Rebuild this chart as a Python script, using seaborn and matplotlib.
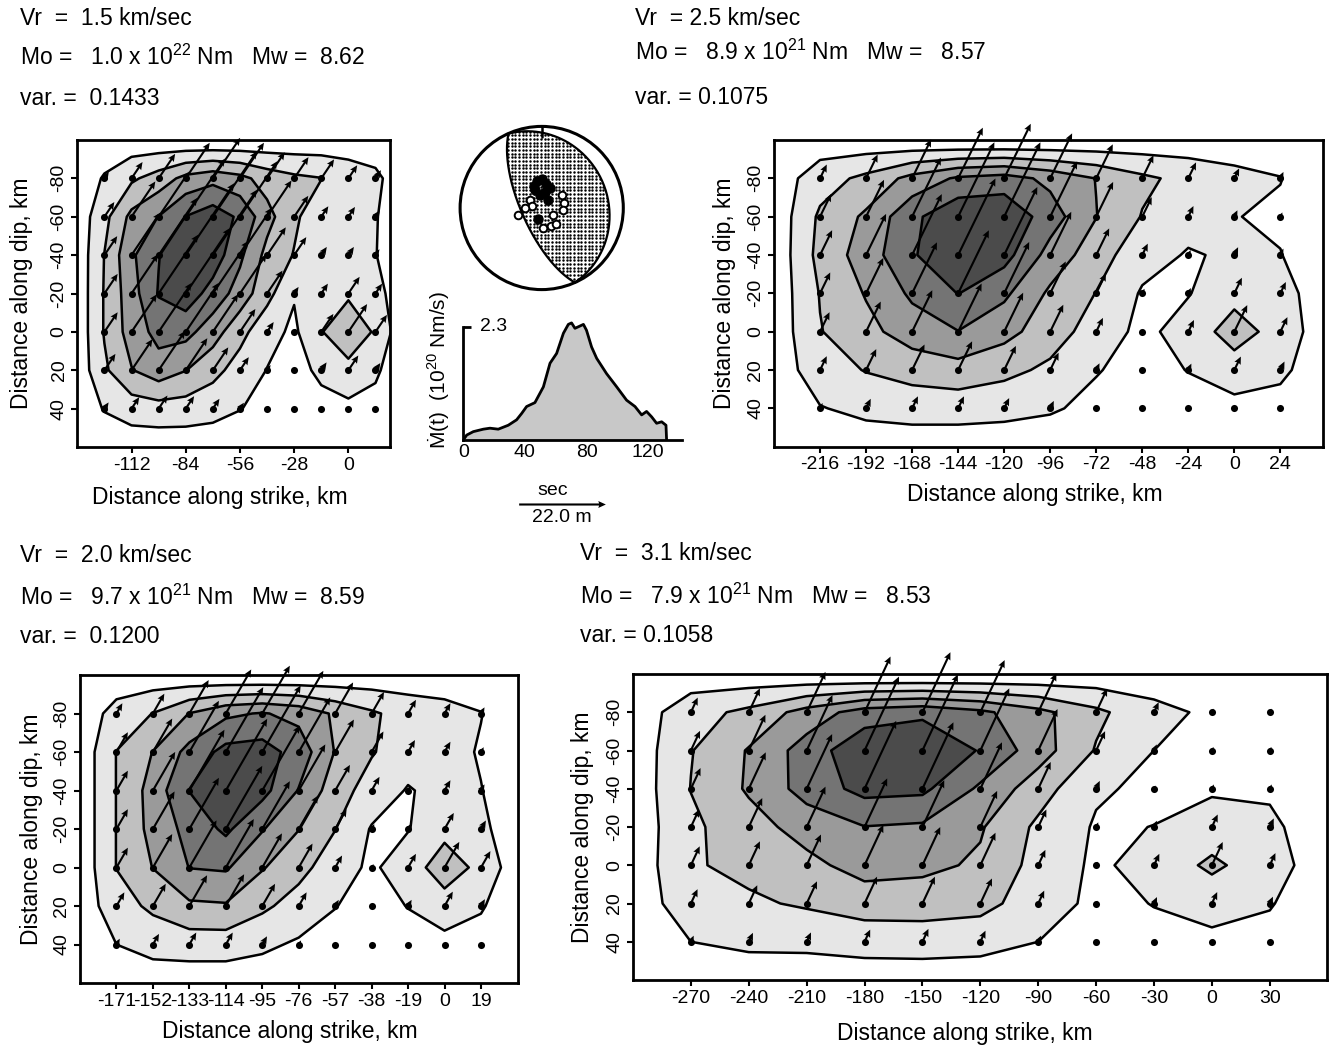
import numpy as np
import matplotlib
matplotlib.use("Agg")
import matplotlib.pyplot as plt
import seaborn as sns
import pandas as pd
from matplotlib.patches import Polygon, Circle

sns.set_theme(style="ticks")
plt.rcParams["font.family"] = ["Liberation Sans", "DejaVu Sans"]
plt.rcParams["mathtext.fontset"] = "custom"
plt.rcParams["mathtext.rm"] = "Liberation Sans"
plt.rcParams["mathtext.it"] = "Liberation Sans:italic"
plt.rcParams["mathtext.bf"] = "Liberation Sans:bold"
plt.rcParams["axes.unicode_minus"] = False
for k in ["text.color", "axes.labelcolor", "xtick.color", "ytick.color", "axes.edgecolor"]:
    plt.rcParams[k] = "black"

# ---------------- data ----------------
dip = [-80, -60, -40, -20, 0, 20, 40]
dip_ticks = [-80, -60, -40, -20, 0, 20, 40]

strike_a = [-126, -112, -98, -84, -70, -56, -42, -28, -14, 0, 14]
strike_b = [-216, -192, -168, -144, -120, -96, -72, -48, -24, 0, 24]
strike_c = [-171, -152, -133, -114, -95, -76, -57, -38, -19, 0, 19]
strike_d = [-270, -240, -210, -180, -150, -120, -90, -60, -30, 0, 30]

ticks_a = [-112, -84, -56, -28, 0]
ticks_b = [-216, -192, -168, -144, -120, -96, -72, -48, -24, 0, 24]
ticks_c = [-171, -152, -133, -114, -95, -76, -57, -38, -19, 0, 19]
ticks_d = [-270, -240, -210, -180, -150, -120, -90, -60, -30, 0, 30]

# slip (m), rows = dip -80..40, columns = strike
slip_a = [
    [2.0, 5.0, 7.5, 10.9, 12.4, 10.9, 8.0, 6.5, 5.8, 4.0, 2.5],
    [4.5, 10.8, 13.8, 17.8, 20.0, 17.0, 11.1, 6.4, 3.2, 3.0, 1.9],
    [5.8, 13.0, 17.5, 22.0, 20.0, 14.5, 8.5, 5.5, 2.5, 2.5, 1.8],
    [6.0, 12.0, 18.0, 20.0, 16.1, 12.0, 7.0, 2.0, 3.0, 5.1, 3.0],
    [6.0, 11.5, 15.0, 15.0, 11.5, 7.0, 3.0, 1.0, 5.5, 8.5, 5.2],
    [5.0, 9.5, 12.0, 9.8, 7.0, 4.0, 1.6, 0.5, 2.4, 4.5, 2.2],
    [1.9, 3.5, 4.0, 3.8, 3.0, 1.8, 0.8, 0.5, 0.6, 0.7, 0.7],
]
slip_b = [
    [3.9, 6.7, 11.0, 14.3, 15.4, 12.7, 9.6, 6.5, 4.5, 2.8, 1.8],
    [6.4, 10.4, 16.7, 21.0, 21.0, 15.6, 9.8, 5.5, 3.0, 1.8, 1.2],
    [7.0, 11.6, 17.2, 21.6, 19.2, 12.2, 7.5, 3.2, 1.4, 2.2, 1.8],
    [5.9, 10.0, 14.4, 17.8, 14.5, 9.0, 5.6, 1.3, 1.5, 4.4, 3.2],
    [5.5, 8.5, 11.7, 13.6, 11.0, 7.6, 3.9, 0.7, 3.3, 7.5, 4.1],
    [3.9, 5.9, 7.2, 8.1, 6.8, 4.9, 1.9, 0.5, 1.8, 3.8, 2.4],
    [1.5, 2.7, 3.4, 3.4, 2.9, 2.1, 0.8, 0.4, 0.4, 0.5, 0.5],
]
slip_c = [
    [3.0, 5.8, 9.8, 12.9, 14.0, 12.5, 9.1, 6.3, 4.0, 3.0, 1.8],
    [5.8, 9.8, 15.0, 19.0, 19.5, 16.0, 9.5, 6.0, 3.5, 3.0, 1.4],
    [5.8, 11.3, 17.8, 21.0, 19.0, 13.5, 7.5, 4.0, 1.4, 3.0, 1.8],
    [5.8, 11.0, 15.0, 18.5, 14.0, 9.8, 5.8, 1.4, 1.5, 4.7, 2.5],
    [5.8, 9.8, 13.8, 14.2, 10.0, 7.0, 3.5, 1.0, 4.0, 7.5, 4.8],
    [4.0, 6.5, 9.0, 9.3, 6.5, 4.0, 1.8, 0.5, 1.8, 4.2, 2.0],
    [1.7, 3.1, 3.5, 3.5, 2.4, 1.2, 0.5, 0.4, 0.4, 0.3, 0.5],
]
slip_d = [
    [4.1, 6.7, 11.3, 15.6, 16.8, 14.6, 10.9, 6.6, 2.8, 1.0, 1.0],
    [5.5, 10.0, 15.5, 20.7, 21.3, 17.4, 11.6, 5.4, 1.7, 1.0, 1.0],
    [5.8, 10.2, 15.3, 19.0, 18.6, 13.0, 7.5, 2.2, 0.9, 1.2, 1.2],
    [4.9, 8.1, 11.3, 13.6, 13.1, 10.1, 4.9, 1.3, 1.75, 3.5, 2.4],
    [5.3, 6.7, 8.6, 11.3, 10.7, 9.1, 4.3, 1.0, 3.2, 6.5, 3.4],
    [4.0, 5.1, 6.2, 7.5, 7.5, 7.0, 3.6, 0.8, 1.8, 3.2, 1.9],
    [1.7, 2.5, 2.6, 3.4, 3.6, 3.1, 1.7, 0.6, 0.8, 0.8, 0.8],
]
# slip direction on screen (deg from horizontal)
rake_a, rake_b, rake_c, rake_d = 56, 64, 60, 65

slip_levels = [1.7, 5.7, 9.7, 13.7, 17.7, 60.0]
slip_shades = ["#e6e6e6", "#c0c0c0", "#9a9a9a", "#747474", "#4b4b4b"]

vr = [1.5, 2.5, 2.0, 3.1]
mo_mant = [1.0, 8.9, 9.7, 7.9]
mo_exp = [22, 21, 21, 21]
mw = [8.62, 8.57, 8.59, 8.53]
var = [0.1433, 0.1075, 0.1200, 0.1058]

# moment rate function
mrf_time = [0, 2.2, 6.5, 13, 17.3, 22.7, 29.2, 34.6, 37.9, 41.1, 46.5, 52, 56.3, 60.6, 65,
            68.2, 70.3, 72.5, 75.3, 78, 80, 83.3, 86.6, 93, 99.6, 106, 111.5, 115.8, 119,
            122.3, 125.5, 128.8, 131.6, 132]
mrf_rate = [0, 0.10, 0.17, 0.22, 0.24, 0.22, 0.30, 0.41, 0.54, 0.68, 0.76, 1.08, 1.56, 1.76,
            2.17, 2.35, 2.38, 2.27, 2.31, 2.35, 2.23, 1.89, 1.66, 1.35, 1.08, 0.81, 0.68,
            0.51, 0.58, 0.47, 0.34, 0.37, 0.30, 0]
mrf_ticks = [0, 40, 80, 120]
mrf_peak_label = 2.3

# focal mechanism (strike, dip of the two nodal planes)
plane1 = (336, 20)
plane2 = (156, 70)
sta_x = [-0.29, -0.14, -0.06, 0.00, 0.05, -0.10, 0.10, 0.25, 0.27, 0.26, 0.14, 0.12, 0.02,
         -0.04, -0.12, 0.17, -0.20, 0.08, -0.02, 0.04, -0.08]
sta_y = [-0.08, 0.10, 0.33, 0.36, 0.30, 0.27, 0.24, 0.16, 0.06, -0.02, -0.08, -0.22, -0.25,
         -0.14, 0.02, -0.20, 0.0, 0.10, 0.16, 0.20, 0.22]
sta_filled = [0, 0, 1, 1, 1, 1, 1, 0, 0, 0, 0, 0, 0, 1, 0, 0, 0, 1, 1, 1, 1]

scale_slip = 22.0  # m for the scale arrow

# ---------------- figure ----------------
W, H = 1330, 1046
fig = plt.figure(figsize=(W / 100, H / 100), dpi=100)
fig.patch.set_facecolor("white")

SCALE = 22.0 / 0.867  # m per inch
FS_HDR = 16.5
FS_LAB = 16.5
FS_TICK = 14


def rect(x0, y0, x1, y1):
    return [x0 / W, 1 - y1 / H, (x1 - x0) / W, (y1 - y0) / H]


def padded(xs, ys, z, frac=0.85):
    xs = np.asarray(xs, float)
    ys = np.asarray(ys, float)
    dx = xs[1] - xs[0]
    dy = ys[1] - ys[0]
    xp = np.concatenate([[xs[0] - frac * dx], xs, [xs[-1] + frac * dx]])
    yp = np.concatenate([[ys[0] - frac * dy], ys, [ys[-1] + frac * dy]])
    zp = np.zeros((len(yp), len(xp)))
    zp[1:-1, 1:-1] = np.asarray(z, float)
    return xp, yp, zp


def draw_panel(r, xs, z, angle, xlim, xt, xlab_pos, ylab_x):
    ax = fig.add_axes(r)
    xp, yp, zp = padded(xs, dip, z)
    ax.contourf(xp, yp, zp, levels=slip_levels, colors=slip_shades, zorder=1)
    ax.contour(xp, yp, zp, levels=slip_levels[:-1], colors="black", linewidths=1.8, zorder=2)
    X, Y = np.meshgrid(np.asarray(xs, float), np.asarray(dip, float))
    Z = np.asarray(z, float)
    a = np.deg2rad(angle)
    q = ax.quiver(X, Y, Z * np.cos(a), Z * np.sin(a), angles="uv", scale_units="inches",
                  scale=SCALE, units="dots", width=2.1, headwidth=3.3, headlength=3.6,
                  headaxislength=3.2, color="black", zorder=5, clip_on=False, pivot="tail")
    df = pd.DataFrame({"x": X.ravel(), "y": Y.ravel()})
    sns.scatterplot(data=df, x="x", y="y", ax=ax, s=26, color="black", linewidth=0,
                    zorder=6, clip_on=False, legend=False)
    ax.set_xlim(*xlim)
    ax.set_ylim(60, -100)
    ax.set_xticks(xt)
    ax.set_xticklabels([str(v) for v in xt])
    ax.set_yticks(dip_ticks)
    ax.set_yticklabels([str(v) for v in dip_ticks], rotation=90, va="center")
    ax.tick_params(direction="out", length=4, width=1.5, labelsize=FS_TICK, pad=3)
    for sp in ax.spines.values():
        sp.set_linewidth(2.0)
        sp.set_color("black")
        sp.set_zorder(4)
    ax.set_xlabel("Distance along strike, km", fontsize=FS_LAB, va="center")
    ax.set_ylabel("Distance along dip, km", fontsize=FS_LAB, va="center")
    ax.xaxis.set_label_coords(*xlab_pos)
    ax.yaxis.set_label_coords(ylab_x, 0.5)
    return ax, q


ax1, q1 = draw_panel(rect(77.3, 140, 390, 447), strike_a, slip_a, rake_a, (-140, 21.5),
                     ticks_a, (0.456, -0.166), -0.178)
ax2, q2 = draw_panel(rect(774, 140, 1323.3, 446.7), strike_b, slip_b, rake_b, (-240, 46.4),
                     ticks_b, (0.475, -0.157), -0.091)
ax3, q3 = draw_panel(rect(80, 675, 518, 983), strike_c, slip_c, rake_c, (-190, 38.3),
                     ticks_c, (0.478, -0.158), -0.110)
ax4, q4 = draw_panel(rect(633, 674, 1326.7, 980), strike_d, slip_d, rake_d, (-300, 59.5),
                     ticks_d, (0.479, -0.174), -0.0735)

# headers
hdr = [(20, [25, 65, 105]), (635, [25, 60, 104]), (20, [562, 605, 643]), (580, [560, 604, 642])]
vr_sp = ["  ", " ", "  ", "  "]
mw_sp = ["  ", "   ", "  ", "   "]
var_sp = ["  ", " ", "  ", " "]
for i, (x0, ys) in enumerate(hdr):
    fig.text(x0 / W, 1 - ys[0] / H, f"Vr  ={vr_sp[i]}{vr[i]:.1f} km/sec", fontsize=FS_HDR, va="baseline")
    fig.text(x0 / W, 1 - ys[1] / H,
             f"Mo =   {mo_mant[i]:.1f} x 10$^{{{mo_exp[i]}}}$ Nm   Mw ={mw_sp[i]}{mw[i]:.2f}",
             fontsize=FS_HDR, va="baseline")
    fig.text(x0 / W, 1 - ys[2] / H, f"var. ={var_sp[i]}{var[i]:.4f}", fontsize=FS_HDR, va="baseline")

# ---------------- focal mechanism ----------------
cx, cy, R = 541.7, 208.0, 81.6
half = R * 1.06
axb = fig.add_axes(rect(cx - half, cy - half, cx + half, cy + half))
axb.set_xlim(-1.06, 1.06)
axb.set_ylim(-1.06, 1.06)
axb.set_aspect("equal")
axb.axis("off")


def plane_curve(strike, dipang, n=181):
    phi = np.deg2rad(strike)
    d = np.deg2rad(dipang)
    t = np.linspace(0, np.pi, n)
    s = np.array([np.sin(phi), np.cos(phi), 0.0])
    dd = np.array([np.cos(d) * np.sin(phi + np.pi / 2), np.cos(d) * np.cos(phi + np.pi / 2), np.sin(d)])
    l = np.outer(np.cos(t), s) + np.outer(np.sin(t), dd)
    trend = np.arctan2(l[:, 0], l[:, 1])
    plunge = np.arcsin(np.clip(l[:, 2], -1, 1))
    rr = np.sqrt(2) * np.sin((np.pi / 2 - plunge) / 2)
    return rr * np.sin(trend), rr * np.cos(trend)


x1, y1 = plane_curve(*plane1)
x2, y2 = plane_curve(*plane2)
poly = Polygon(np.column_stack([np.concatenate([x1, x2]), np.concatenate([y1, y2])]),
               closed=True, facecolor="white", edgecolor="none", zorder=1)
axb.add_patch(poly)
gx, gy = np.meshgrid(np.arange(-1, 1.001, 0.045), np.arange(-1, 1.001, 0.045))
dots = axb.scatter(gx.ravel(), gy.ravel(), s=3.2, c="black", marker="o", linewidths=0, zorder=2)
dots.set_clip_path(poly)
axb.plot(x1, y1, color="black", lw=1.6, zorder=3)
axb.plot(x2, y2, color="black", lw=1.6, zorder=3)
axb.add_patch(Circle((0, 0), 1.0, facecolor="none", edgecolor="black", lw=2.2, zorder=4))
axb.plot([0, 0], [1.0, 0.87], color="black", lw=1.8, zorder=4)
sx = np.asarray(sta_x)
sy = np.asarray(sta_y)
sf = np.asarray(sta_filled, bool)
axb.scatter(sx[~sf], sy[~sf], s=30, facecolor="white", edgecolor="black", linewidths=1.4, zorder=5)
axb.scatter(sx[sf], sy[sf], s=42, facecolor="black", edgecolor="black", linewidths=1.0, zorder=6)

# ---------------- moment rate function ----------------
axm = fig.add_axes(rect(463.3, 440 - 123, 463.3 + 218.7, 440))
axm.fill_between(mrf_time, mrf_rate, color="#c8c8c8", lw=0, zorder=1)
sns.lineplot(x=mrf_time, y=mrf_rate, ax=axm, color="black", lw=2.0, estimator=None,
             sort=False, zorder=2)
axm.set_xlim(0, 142)
axm.set_ylim(0, 2.5)
axm.spines["top"].set_visible(False)
axm.spines["right"].set_visible(False)
axm.spines["left"].set_bounds(0, mrf_peak_label)
for sp in ["left", "bottom"]:
    axm.spines[sp].set_linewidth(2.0)
    axm.spines[sp].set_color("black")
axm.set_xticks(mrf_ticks)
axm.set_xticklabels([str(v) for v in mrf_ticks])
axm.tick_params(axis="x", length=0, labelsize=FS_TICK, pad=3)
axm.set_yticks([mrf_peak_label])
axm.set_yticklabels([])
axm.tick_params(axis="y", direction="in", length=6, width=2.0)
axm.text(11, mrf_peak_label, f"{mrf_peak_label}", fontsize=FS_TICK, ha="left", va="center")
axm.text(-0.116, 0.569, "Ṁ(t)  (10$^{20}$ Nm/s)", transform=axm.transAxes, rotation=90,
         ha="center", va="center", fontsize=15)
axm.set_xlabel("")
axm.set_ylabel("")
axm.patch.set_alpha(0)

fig.text(553 / W, 1 - 490 / H, "sec", fontsize=14, ha="center", va="center")
ax1.quiverkey(q1, X=561.7 / W, Y=1 - 504 / H, U=scale_slip, label=f"{scale_slip:.1f} m",
              labelpos="S", coordinates="figure", labelsep=0.05,
              fontproperties={"size": 14})

fig.savefig("out.png", dpi=100, facecolor="white")
